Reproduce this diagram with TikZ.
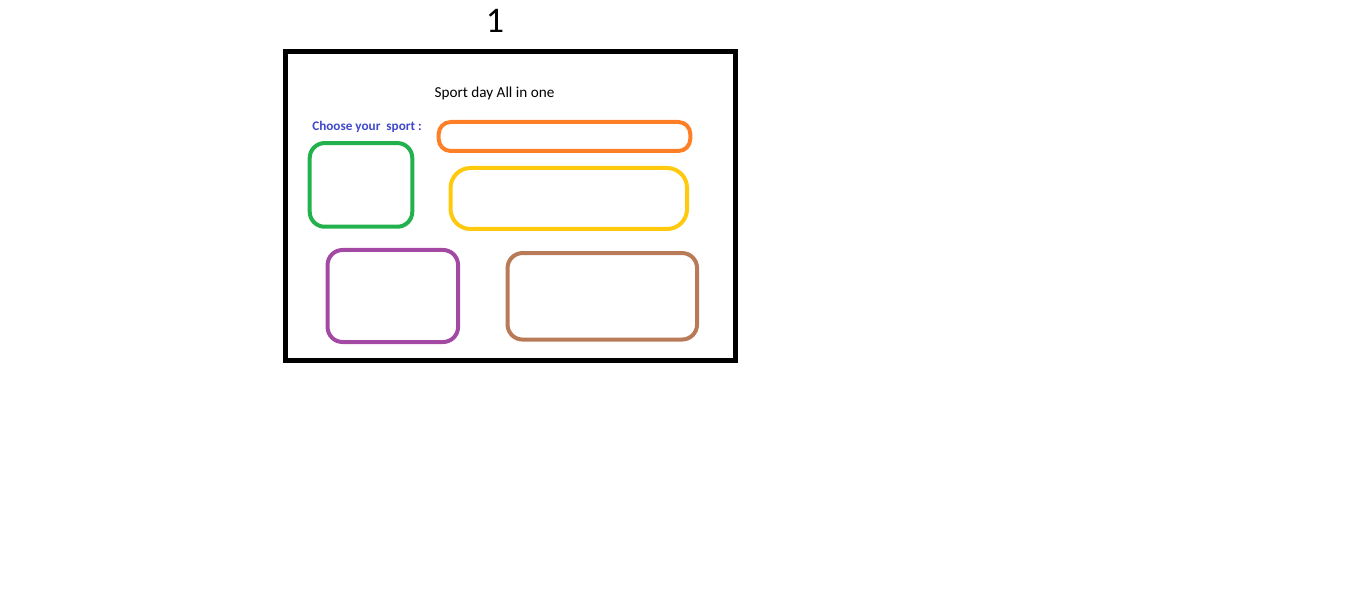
\documentclass[tikz,border=0pt]{standalone}
\usepackage{fontspec}
\setmainfont{Carlito}
\usepackage{xcolor}
\usepackage{tikz}
\usetikzlibrary{positioning}
\definecolor{paintgreen}{HTML}{22B14C}
\definecolor{paintorange}{HTML}{FF7F27}
\definecolor{paintyellow}{HTML}{FFC90E}
\definecolor{paintpurple}{HTML}{A349A4}
\definecolor{paintbrown}{HTML}{B97A57}
\definecolor{paintblue}{HTML}{3F48CC}
\tikzset{
  frame/.style={rectangle, draw, line width=5pt, inner sep=0pt},
  slot/.style={rectangle, draw, line width=4pt, rounded corners=15pt, inner sep=0pt},
  label/.style={inner sep=0pt, font=\fontsize{15.2}{17}\selectfont},
}

\begin{document}
\begin{tikzpicture}[x=1pt, y=-1pt]
    \useasboundingbox (0,0) rectangle (1351,593);
    \node[frame, minimum width=450pt, minimum height=309pt] (page) at (510.5,206) {};
    \node[inner sep=0pt, font=\fontsize{36}{40}\selectfont] (pagenum) at (495,21) {1};
    \node[label] (title) at (494.5,93) {Sport day All in one};
    \node[label, font=\bfseries\fontsize{13.2}{15}\selectfont, text=paintblue] (choose) at (367,126.5) {Choose your~~sport :};
    \node[slot, paintorange, rounded corners=12pt, minimum width=251.6pt, minimum height=29pt] (orangebar) at (564.5,136.5) {};
    \node[slot, paintgreen, minimum width=102.6pt, minimum height=83.7pt] (greenbox) at (361,184.9) {};
    \node[slot, paintyellow, rounded corners=20pt, minimum width=236.5pt, minimum height=61pt] (yellowbar) at (568.8,198.5) {};
    \node[slot, paintpurple, minimum width=130.5pt, minimum height=92pt] (purplebox) at (392.8,296) {};
    \node[slot, paintbrown, minimum width=189.5pt, minimum height=86.5pt] (brownbox) at (602.3,296.3) {};
  \end{tikzpicture}
\end{document}
